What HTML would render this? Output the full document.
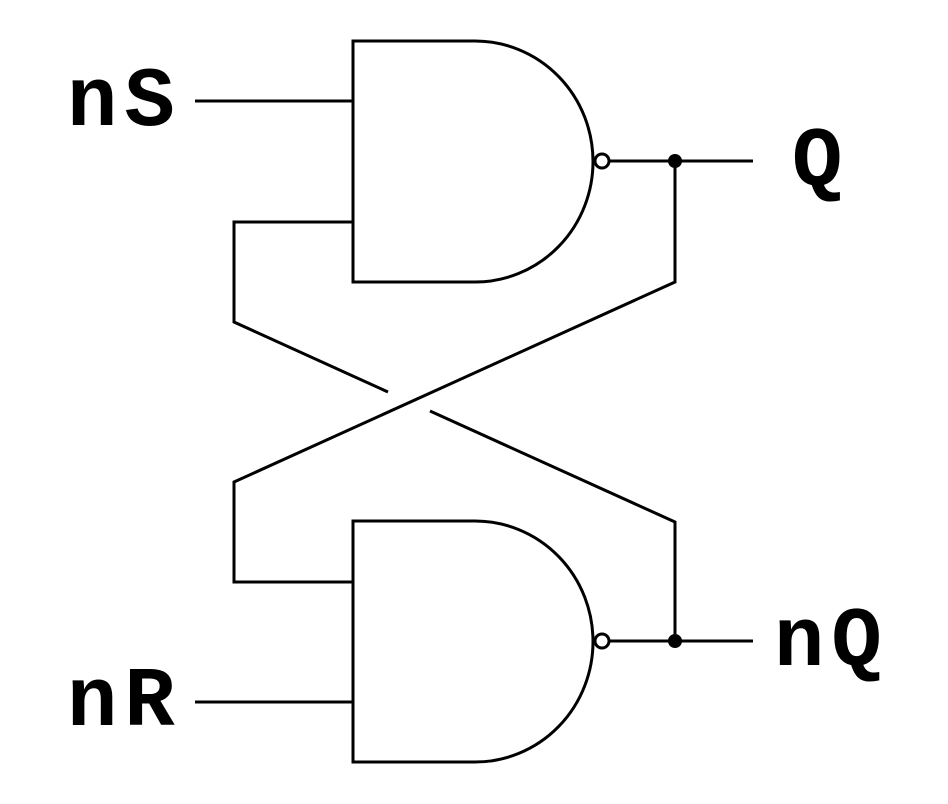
<!DOCTYPE html>
<html><head><style>body{margin:0;background:#fff;position:relative;width:948px;height:804px;overflow:hidden}svg{display:block;position:absolute;left:0;top:0}
.t{position:absolute;font-family:"Liberation Mono","DejaVu Sans Mono",monospace;font-weight:bold;font-size:84px;line-height:84px;letter-spacing:7px;color:#000;white-space:nowrap}</style></head><body>
<svg width="948" height="804" viewBox="0 0 948 804" xmlns="http://www.w3.org/2000/svg">
<g fill="none" stroke="#000" stroke-width="3">
<path d="M353,41 H475 A118,120.5 0 0 1 475,282 H353 Z"/>
<path d="M353,521 H475 A118,120.5 0 0 1 475,762 H353 Z"/>
<line x1="195" y1="101" x2="353" y2="101"/>
<line x1="195" y1="702" x2="353" y2="702"/>
<line x1="608" y1="161" x2="753" y2="161"/>
<line x1="608" y1="641" x2="753" y2="641"/>
<polyline points="675,161 675,282 234,482 234,582 353,582"/>
<polyline points="353,222 234,222 234,322 388,392"/>
<polyline points="430,411 675,522 675,641"/>
<circle cx="602" cy="161" r="7" fill="#fff"/>
<circle cx="602" cy="641" r="7" fill="#fff"/>
</g>
<circle cx="675" cy="161" r="7" fill="#000"/>
<circle cx="675" cy="641" r="7" fill="#000"/>
</svg>
<div class="t" style="left:67px;top:62px">nS</div>
<div class="t" style="left:67px;top:662px">nR</div>
<div class="t" style="left:792px;top:122px">Q</div>
<div class="t" style="left:774px;top:602px">nQ</div>
</body></html>
